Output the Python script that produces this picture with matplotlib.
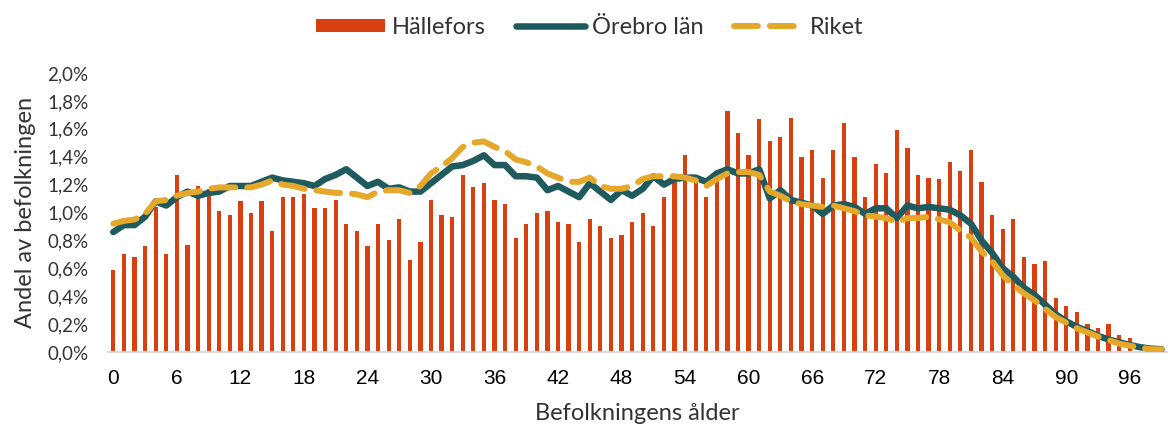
import numpy as np
import matplotlib
matplotlib.use("Agg")
import matplotlib.pyplot as plt
from matplotlib.ticker import FuncFormatter

ages = list(range(100))

# Hällefors, andel av befolkningen (%)
hallefors = [0.59, 0.70, 0.68, 0.76, 1.04, 0.70, 1.27, 0.77, 1.19, 1.17,
             1.01, 0.98, 1.08, 1.00, 1.08, 0.87, 1.11, 1.11, 1.13, 1.03,
             1.03, 1.09, 0.92, 0.87, 0.76, 0.92, 0.80, 0.95, 0.66, 0.79,
             1.09, 0.98, 0.97, 1.27, 1.18, 1.21, 1.09, 1.06, 0.82, 0.92,
             1.00, 1.01, 0.93, 0.92, 0.79, 0.95, 0.90, 0.82, 0.84, 0.93,
             1.00, 0.90, 1.11, 1.22, 1.41, 1.27, 1.11, 1.30, 1.73, 1.57,
             1.41, 1.67, 1.51, 1.54, 1.68, 1.40, 1.45, 1.25, 1.45, 1.64,
             1.40, 1.11, 1.35, 1.28, 1.59, 1.46, 1.27, 1.25, 1.24, 1.36,
             1.30, 1.45, 1.22, 0.98, 0.88, 0.95, 0.68, 0.63, 0.65, 0.39,
             0.33, 0.29, 0.20, 0.17, 0.20, 0.12, 0.10, 0.0, 0.0, 0.0]

orebro = [0.86, 0.91, 0.91, 0.97, 1.08, 1.05, 1.11, 1.15, 1.12, 1.14,
          1.15, 1.19, 1.19, 1.19, 1.22, 1.25, 1.23, 1.22, 1.21, 1.19,
          1.24, 1.27, 1.31, 1.25, 1.19, 1.22, 1.17, 1.18, 1.15, 1.15,
          1.21, 1.27, 1.33, 1.34, 1.37, 1.41, 1.34, 1.34, 1.26, 1.26,
          1.25, 1.16, 1.19, 1.15, 1.11, 1.21, 1.15, 1.09, 1.16, 1.12,
          1.17, 1.26, 1.20, 1.24, 1.25, 1.25, 1.22, 1.28, 1.31, 1.28,
          1.28, 1.31, 1.10, 1.16, 1.09, 1.07, 1.05, 0.99, 1.05, 1.06,
          1.04, 0.99, 1.03, 1.03, 0.96, 1.05, 1.03, 1.04, 1.03, 1.02,
          0.98, 0.92, 0.80, 0.71, 0.60, 0.54, 0.46, 0.41, 0.34, 0.27,
          0.22, 0.18, 0.15, 0.115, 0.09, 0.07, 0.05, 0.034, 0.024, 0.02]

riket = [0.92, 0.94, 0.95, 0.99, 1.08, 1.09, 1.12, 1.14, 1.15, 1.17,
         1.18, 1.18, 1.18, 1.18, 1.20, 1.23, 1.20, 1.19, 1.17, 1.16,
         1.15, 1.14, 1.14, 1.13, 1.11, 1.15, 1.16, 1.16, 1.14, 1.19,
         1.28, 1.33, 1.39, 1.47, 1.50, 1.51, 1.47, 1.44, 1.38, 1.36,
         1.33, 1.28, 1.25, 1.22, 1.22, 1.25, 1.19, 1.17, 1.17, 1.19,
         1.24, 1.26, 1.26, 1.26, 1.25, 1.23, 1.19, 1.24, 1.28, 1.29,
         1.29, 1.27, 1.15, 1.12, 1.08, 1.06, 1.05, 1.04, 1.05, 1.03,
         1.01, 0.98, 0.97, 0.96, 0.93, 0.96, 0.96, 0.97, 0.95, 0.93,
         0.87, 0.82, 0.72, 0.65, 0.55, 0.48, 0.42, 0.37, 0.31, 0.25,
         0.21, 0.17, 0.14, 0.11, 0.085, 0.06, 0.045, 0.03, 0.02, 0.02]

xticks = list(range(0, 97, 6))

bar_color = "#d8410f"
teal = "#1f5a5f"
gold = "#e6a82a"
grey_text = "#333333"

plt.rcParams["font.family"] = ["Lato", "DejaVu Sans"]

fig = plt.figure(figsize=(11.68, 4.30), dpi=100)
ax = fig.add_axes([0.0925, 0.1814, 0.9065, 0.6488])

x = np.array(ages)
bars = ax.bar(x, np.array(hallefors) / 100, width=0.4, color=bar_color, label="Hällefors", zorder=2)
l1, = ax.plot(x, np.array(orebro) / 100, color=teal, lw=4.7, solid_capstyle="round",
              solid_joinstyle="round", label="Örebro län", zorder=3)
l2, = ax.plot(x, np.array(riket) / 100, color=gold, lw=4.3, dashes=(4, 2),
              dash_capstyle="round", label="Riket", zorder=4)

ax.set_xlim(-0.5, 99.5)
ax.set_ylim(0, 0.02)
ax.set_yticks(np.arange(0, 0.0201, 0.002))
ax.yaxis.set_major_formatter(FuncFormatter(lambda v, p: f"{v*100:.1f}%".replace(".", ",")))
ax.set_xticks(xticks)
ax.set_xticklabels([str(t) for t in xticks], fontfamily="Liberation Sans", fontsize=15, color="black")
ax.tick_params(axis="y", length=0, pad=14, labelsize=13.5, labelcolor=grey_text)
ax.tick_params(axis="x", length=0, pad=12)

for s in ["top", "right", "left"]:
    ax.spines[s].set_visible(False)
ax.spines["bottom"].set_color("#d9d9d9")
ax.spines["bottom"].set_linewidth(1.5)

ax.set_ylabel("Andel av befolkningen", fontsize=17, color=grey_text, labelpad=8)
ax.set_xlabel("Befolkningens ålder", fontsize=17, color=grey_text, labelpad=11)

leg = fig.legend([bars, l1, l2], ["Hällefors", "Örebro län", "Riket"],
                 loc="upper center", bbox_to_anchor=(0.505, 1.01), ncol=3, frameon=False,
                 fontsize=17, handlelength=2.9, handleheight=0.5, columnspacing=1.3,
                 handletextpad=0.3, labelcolor=grey_text)

fig.savefig("out.png", dpi=100)
